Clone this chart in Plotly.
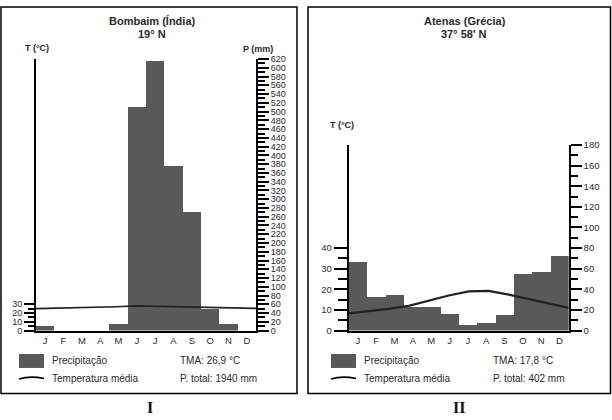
import plotly.graph_objects as go

W, H = 612, 420

months = ["J", "F", "M", "A", "M", "J", "J", "A", "S", "O", "N", "D"]

# Bombaim (Índia)
bombaim_precip = [10, 0, 0, 0, 15, 510, 615, 375, 270, 48, 15, 0]
bombaim_temp = [25.0, 25.4, 25.9, 26.5, 27.2, 28.2, 27.8, 27.3, 26.9, 26.4, 25.9, 25.3]

# Atenas (Grécia)
atenas_precip = [67, 33, 35, 23, 23, 16, 5, 7, 15, 55, 57, 72]
atenas_temp = [8.3, 9.4, 10.5, 12.0, 14.5, 17.0, 19.0, 19.2, 17.4, 15.3, 13.2, 11.0]

BAR = "#595959"
TXT = "#2a2a2a"
SANS = "Liberation Sans, Arial, sans-serif"
SERIF = "Liberation Serif, Times New Roman, serif"


def X(px):
    return px / W


def Y(py):
    return 1 - py / H


idx = list(range(len(months)))

fig = go.Figure()

# ---- Panel I: Bombaim ----
fig.add_trace(go.Bar(x=idx, y=bombaim_precip, marker=dict(color=BAR, line=dict(width=0)),
                     xaxis="x", yaxis="y", showlegend=False))
fig.add_trace(go.Scatter(x=idx, y=bombaim_temp, mode="lines",
                         line=dict(color="#222222", width=1.6),
                         xaxis="x2", yaxis="y2", showlegend=False))

# ---- Panel II: Atenas ----
fig.add_trace(go.Bar(x=idx, y=atenas_precip, marker=dict(color=BAR, line=dict(width=0)),
                     xaxis="x3", yaxis="y3", showlegend=False))
fig.add_trace(go.Scatter(x=idx, y=atenas_temp, mode="lines",
                         line=dict(color="#222222", width=2.2),
                         xaxis="x4", yaxis="y4", showlegend=False))

tickfont = dict(family=SANS, size=9.5, color=TXT)

domL = [X(36), X(256)]
domR = [X(348.7), X(568.7)]
ybot = Y(333.3)

common_x = dict(range=[-0.5, 11.5], tickmode="array", tickvals=idx, ticktext=months,
                showline=True, linecolor="black", linewidth=2, ticks="",
                showgrid=False, zeroline=False, tickfont=tickfont, fixedrange=True)

fig.update_layout(
    width=W, height=H, margin=dict(l=0, r=0, t=0, b=0),
    paper_bgcolor="white", plot_bgcolor="white", bargap=0,
    xaxis=dict(domain=domL, anchor="y", **common_x),
    xaxis2=dict(domain=domL, overlaying="x", range=[0, 11], visible=False, anchor="y2"),
    yaxis=dict(domain=[ybot, Y(54.5)], anchor="x", side="right", range=[0, 620],
               tickmode="linear", tick0=0, dtick=20, ticks="outside", ticklen=11, tickwidth=1.5,
               tickcolor="black", minor=dict(dtick=10, ticklen=7, tickwidth=1.5, tickcolor="black", ticks="outside"),
               showline=True, linecolor="black", linewidth=2, showgrid=False, zeroline=False,
               tickfont=dict(family=SANS, size=9, color=TXT)),
    yaxis2=dict(overlaying="y", anchor="x", side="left", range=[0, 310],
                tickmode="array", tickvals=[0, 10, 20, 30], ticks="outside", ticklen=10, tickwidth=1.5,
                tickcolor="black",
                minor=dict(tickmode="array", tickvals=[5, 15, 25], ticklen=6, tickwidth=1.5,
                           tickcolor="black", ticks="outside"),
                showline=True, linecolor="black", linewidth=2, showgrid=False, zeroline=False,
                tickfont=dict(family=SANS, size=9, color=TXT)),
    xaxis3=dict(domain=domR, anchor="y3", **common_x),
    xaxis4=dict(domain=domR, overlaying="x3", range=[0, 11], visible=False, anchor="y4"),
    yaxis3=dict(domain=[ybot, Y(142.7)], anchor="x3", side="right", range=[0, 180],
                tickmode="linear", tick0=0, dtick=20, ticks="outside", ticklen=11, tickwidth=1.5,
                tickcolor="black", minor=dict(dtick=10, ticklen=7, tickwidth=1.5, tickcolor="black", ticks="outside"),
                showline=True, linecolor="black", linewidth=2, showgrid=False, zeroline=False,
                tickfont=tickfont),
    yaxis4=dict(overlaying="y3", anchor="x3", side="left", range=[0, 90],
                tickmode="array", tickvals=[0, 10, 20, 30, 40], ticks="outside", ticklen=13, tickwidth=1.5,
                tickcolor="black",
                minor=dict(tickmode="array", tickvals=[5, 15, 25, 35], ticklen=9, tickwidth=1.5,
                           tickcolor="black", ticks="outside"),
                showline=True, linecolor="black", linewidth=2, showgrid=False, zeroline=False,
                tickfont=tickfont),
)

shapes = []
# panel borders
shapes.append(dict(type="rect", xref="paper", yref="paper", x0=X(1), x1=X(297), y0=Y(398), y1=Y(1),
                   line=dict(color="black", width=1.5)))
shapes.append(dict(type="rect", xref="paper", yref="paper", x0=X(308), x1=X(610.5), y0=Y(398), y1=Y(1),
                   line=dict(color="black", width=1.5)))

annotations = []


def ann(text, px, py, size=10, bold=False, family=SANS, xanchor="center", color=TXT):
    annotations.append(dict(text=("<b>%s</b>" % text) if bold else text, x=X(px), y=Y(py),
                            xref="paper", yref="paper", showarrow=False, xanchor=xanchor,
                            yanchor="middle", font=dict(family=family, size=size, color=color)))


def legend(x0, tma_x, tma, total):
    shapes.append(dict(type="rect", xref="paper", yref="paper", x0=X(x0), x1=X(x0 + 25),
                       y0=Y(371.7), y1=Y(357.3), fillcolor=BAR, line=dict(width=0)))
    shapes.append(dict(type="path", xref="paper", yref="paper",
                       path="M %f,%f Q %f,%f %f,%f" % (X(x0), Y(383), X(x0 + 11), Y(379.5), X(x0 + 25), Y(382.5)),
                       line=dict(color="black", width=1.6)))
    ann("Precipitação", x0 + 31, 364, xanchor="left")
    ann("Temperatura média", x0 + 31, 383, xanchor="left")
    ann(tma, tma_x, 364, xanchor="left")
    ann(total, tma_x, 383, xanchor="left")


# Panel I texts
ann("Bombaim (Índia)", 152, 15.5, size=11, bold=True)
ann("19° N", 152, 28.5, size=11, bold=True)
ann("T (°C)", 37, 43.5, size=9, bold=True)
ann("P (mm)", 257.5, 44, size=9, bold=True)
legend(19, 178, "TMA: 26,9 °C", "P. total: 1940 mm")
ann("I", 150, 412, size=16, bold=True, family=SERIF, color="#111111")

# Panel II texts
ann("Atenas (Grécia)", 464.5, 15.5, size=11, bold=True)
ann("37° 58' N", 463.5, 28.5, size=11, bold=True)
ann("T (°C)", 342, 122.7, size=9, bold=True)
legend(331, 491, "TMA: 17,8 °C", "P. total: 402 mm")
ann("II", 459, 412, size=16, bold=True, family=SERIF, color="#111111")

fig.update_layout(shapes=shapes, annotations=annotations)

fig.write_html("out.html", config={"displayModeBar": False},
               post_script="document.body.style.margin='0';document.body.style.padding='0';")
